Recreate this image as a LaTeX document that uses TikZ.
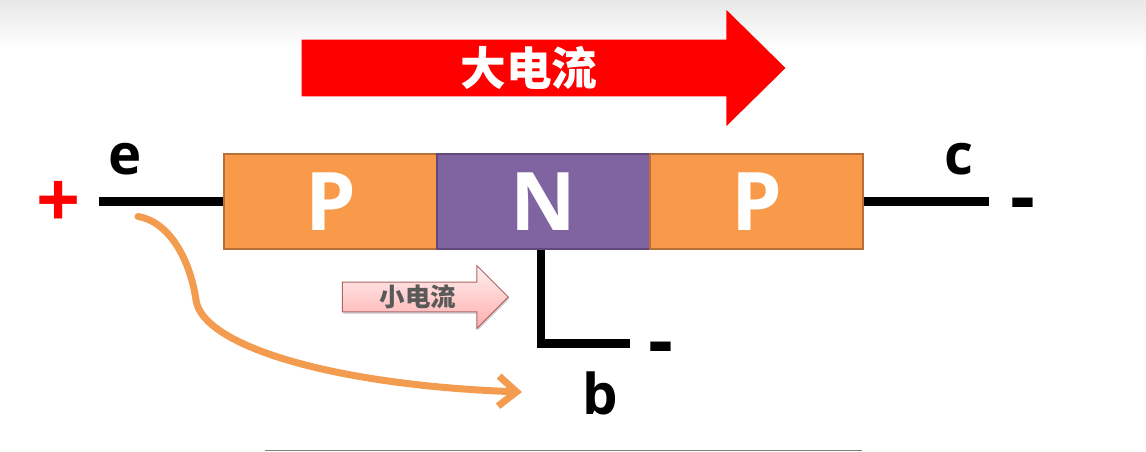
\documentclass[tikz,border=0pt]{standalone}
\usepackage{fontspec}
\setmainfont{Open Sans}
\newfontfamily\cjk{Noto Sans CJK SC}
\usepackage{tikz}
\usetikzlibrary{arrows.meta,positioning,calc,shadows,shapes.arrows}
\usepackage{xcolor}
\definecolor{ink}{RGB}{0,0,0}
\definecolor{orng}{RGB}{249,154,74}
\definecolor{orngD}{RGB}{184,112,56}
\definecolor{purp}{RGB}{128,100,162}
\definecolor{purpD}{RGB}{96,73,122}
\definecolor{curv}{RGB}{243,156,80}
\definecolor{roof}{RGB}{232,232,232}
\tikzset{
  x=0.02cm,y=-0.02cm,
  zone/.style={draw=#1D,fill=#1,line width=0.05cm,minimum width=4.26cm,minimum height=1.9cm,
    inner sep=0pt,text=white,font=\fontsize{46}{46}\selectfont\bfseries},
  wire/.style={line width=0.17cm,ink},
  pin/.style={inner sep=0pt,text=ink,font=\fontsize{32}{32}\selectfont\bfseries},
  sign/.style={inner sep=0pt,font=\fontsize{44}{44}\selectfont\bfseries},
  bigarr/.style={single arrow,fill=red,inner sep=0pt,single arrow head extend=0.46cm,
    single arrow tip angle=89,minimum height=9.68cm,minimum width=2.32cm,text=white,anchor=tip,
    font=\cjk\fontsize{26}{26}\selectfont\bfseries},
  smallarr/.style={single arrow,draw=red!45!black!60,line width=0.02cm,top color=red!6,bottom color=red!32,
    inner sep=0pt,single arrow head extend=0.28cm,anchor=tip,
    single arrow tip angle=90,minimum height=3.32cm,minimum width=1.26cm,text=black!65,
    drop shadow={shadow xshift=0.02cm,shadow yshift=-0.04cm,opacity=0.3},
    font=\cjk\fontsize{14.5}{14.5}\selectfont\bfseries},
  flow/.style={-{Straight Barb[length=0.36cm,width=0.6cm,line width=0.14cm]},line width=0.14cm,curv,line cap=round},
}
\begin{document}
\begin{tikzpicture}
\useasboundingbox (0,0) rectangle (1146,451);
% top band and bottom rule
\fill[top color=roof,bottom color=white] (0,0) rectangle (1146,50);
\coordinate (ruleL) at (265,450.5);
\coordinate (ruleR) at (862,450.5);
\draw[black!50,line width=0.03cm] (ruleL) -- (ruleR);
% big current
\node[bigarr] (big) at (786,68) {大电流};
% the three zones
\node[zone=orng] (p1) at (330.5,201.5) {P};
\node[zone=purp] (n) at (543.5,201.5) {N};
\node[zone=orng] (p2) at (756.5,201.5) {P};
% emitter side
\coordinate (eEnd) at (99,201.5);
\draw[wire] (eEnd) -- (p1.west);
\node[pin] (e) at (125.5,159) {e};
\node[sign,text=red] (plus) at (58.5,204) {+};
% collector side
\coordinate (cEnd) at (989,201.5);
\draw[wire] (p2.east) -- (cEnd);
\node[pin] (c) at (959,159) {c};
\node[sign] (mc) at (1023,211) {-};
% base
\coordinate (bTop) at (541,250);
\coordinate (bCor) at (541,343.5);
\coordinate (bEnd) at (630,343.5);
\draw[wire] (bTop) -- (bCor) -- (bEnd);
\node[pin] (b) at (600,393) {b};
\node[sign] (mb) at (660.5,355) {-};
% small current
\node[smallarr] (small) at (509,297) {小电流};
% flow from e to b
\coordinate (fS) at (138,216.5);
\coordinate (fE) at (522,392);
\draw[flow] (fS) .. controls (170,222) and (190,260) .. (196,300)
  .. controls (202,345) and (330,385) .. (fE);
\end{tikzpicture}
\end{document}
